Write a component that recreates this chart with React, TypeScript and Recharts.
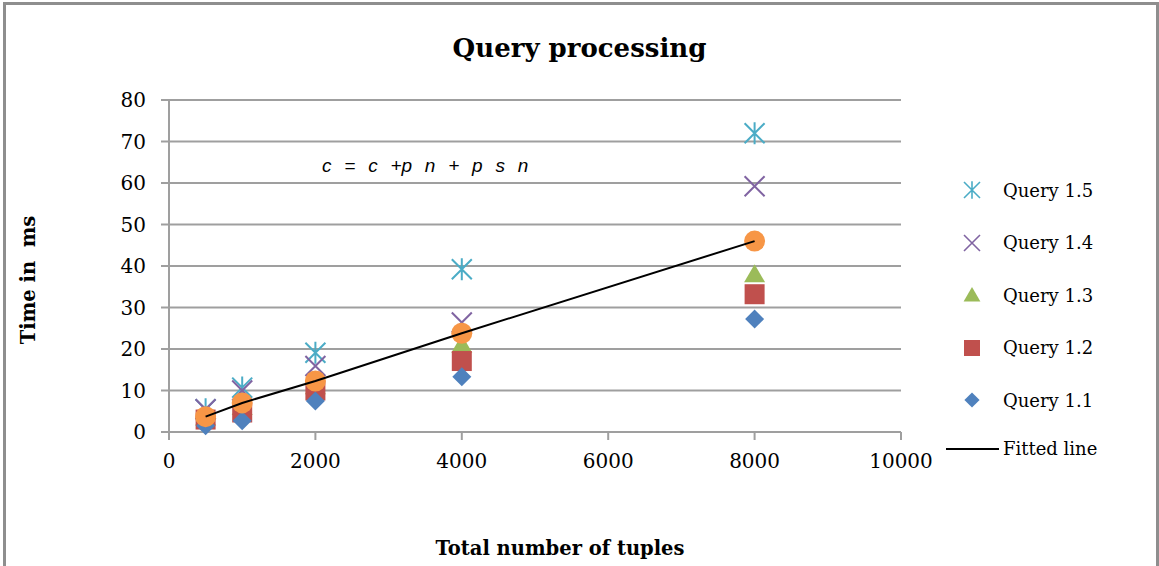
import React from 'react';
import { ScatterChart, Scatter, XAxis, YAxis, CartesianGrid } from 'recharts';

// tuple counts measured
const tuples = [500, 1000, 2000, 4000, 8000];

// processing time (ms) per query
const query11 = [1.5, 2.7, 7.5, 13.3, 27.2];
const query12 = [3, 4.7, 10, 17.1, 33.2];
const query13 = [3.5, 6, 11, 21, 38];
const query14 = [5.5, 10, 15.9, 26.4, 59.2];
const query15 = [5.5, 10.7, 19.1, 39.2, 72];
// fitted model values
const fitted = [3.7, 7, 12.3, 23.8, 46];

const xTicks = [0, 2000, 4000, 6000, 8000, 10000];
const yTicks = [0, 10, 20, 30, 40, 50, 60, 70, 80];

const toPoints = (vals: number[]) => tuples.map((n, i) => ({ n, t: vals[i] }));

const BLUE = '#4F81BD';
const RED = '#C0504D';
const GREEN = '#9BBB59';
const PURPLE = '#8064A2';
const TEAL = '#4BACC6';
const ORANGE = '#F79646';
const GRID = '#9f9f9f';
const SERIF = '"DejaVu Serif", serif';

const Diamond = ({ cx, cy }: any) => (
  <path d={`M${cx},${cy - 9.5}L${cx + 9.5},${cy}L${cx},${cy + 9.5}L${cx - 9.5},${cy}Z`} fill={BLUE} />
);
const Square = ({ cx, cy }: any) => (
  <rect x={cx - 10} y={cy - 10} width={20} height={20} fill={RED} />
);
const Triangle = ({ cx, cy }: any) => (
  <path d={`M${cx},${cy - 10}L${cx + 10.5},${cy + 8}L${cx - 10.5},${cy + 8}Z`} fill={GREEN} />
);
const Cross = ({ cx, cy }: any) => (
  <path
    d={`M${cx - 10},${cy - 10}L${cx + 10},${cy + 10}M${cx - 10},${cy + 10}L${cx + 10},${cy - 10}`}
    stroke={PURPLE}
    strokeWidth={2}
  />
);
const Star = ({ cx, cy }: any) => (
  <path
    d={`M${cx - 10},${cy - 10}L${cx + 10},${cy + 10}M${cx - 10},${cy + 10}L${cx + 10},${cy - 10}M${cx},${cy - 11}L${cx},${cy + 11}`}
    stroke={TEAL}
    strokeWidth={2}
  />
);
const Dot = ({ cx, cy }: any) => <circle cx={cx} cy={cy} r={10.5} fill={ORANGE} />;
const NoMark = () => <g />;

const legendRows = [
  { name: 'Query 1.5', Icon: Star },
  { name: 'Query 1.4', Icon: Cross },
  { name: 'Query 1.3', Icon: Triangle },
  { name: 'Query 1.2', Icon: Square },
  { name: 'Query 1.1', Icon: Diamond },
];

function LegendBox() {
  return (
    <div style={{ position: 'absolute', left: 946, top: 164 }}>
      {legendRows.map(({ name, Icon }) => (
        <div key={name} style={{ display: 'flex', alignItems: 'center', height: 52.5 }}>
          <svg width={52} height={30}>
            <g transform="translate(26,15) scale(0.8)">
              <Icon cx={0} cy={0} />
            </g>
          </svg>
          <span style={{ marginLeft: 5, fontSize: 18, fontFamily: SERIF }}>{name}</span>
        </div>
      ))}
      <div style={{ display: 'flex', alignItems: 'center', height: 30, marginTop: 7 }}>
        <svg width={53} height={30}>
          <line x1={0} y1={15} x2={53} y2={15} stroke="#000" strokeWidth={2} />
        </svg>
        <span style={{ marginLeft: 4, fontSize: 18, fontFamily: SERIF }}>Fitted line</span>
      </div>
    </div>
  );
}

export default function App() {
  const tick = { fill: '#000', fontSize: 20, fontFamily: SERIF };
  return (
    <div
      style={{
        position: 'absolute',
        left: 0,
        top: 0,
        width: 1159,
        height: 566,
        background: '#fff',
        fontFamily: SERIF,
      }}
    >
      <div
        style={{
          position: 'absolute',
          left: 3,
          top: 2,
          width: 1150,
          height: 561,
          borderTop: '3px solid #8e8e8e',
          borderLeft: '3px solid #8e8e8e',
          borderRight: '3px solid #8e8e8e',
          borderBottom: '1px solid #d4d4d4',
        }}
      />
      <ScatterChart width={1159} height={566} margin={{ top: 100, right: 258, bottom: 0, left: 0 }}>
        <CartesianGrid vertical={false} stroke={GRID} strokeWidth={2} />
        <XAxis
          type="number"
          dataKey="n"
          domain={[0, 10000]}
          ticks={xTicks}
          interval={0}
          tick={tick}
          tickSize={8}
          tickMargin={14}
          stroke={GRID}
          strokeWidth={2}
          height={134}
        />
        <YAxis
          type="number"
          dataKey="t"
          domain={[0, 80]}
          ticks={yTicks}
          interval={0}
          tick={tick}
          tickSize={8}
          tickMargin={15}
          stroke={GRID}
          strokeWidth={2}
          width={169}
        />
        <Scatter data={toPoints(query15)} shape={<Star />} isAnimationActive={false} />
        <Scatter data={toPoints(query14)} shape={<Cross />} isAnimationActive={false} />
        <Scatter data={toPoints(query13)} shape={<Triangle />} isAnimationActive={false} />
        <Scatter data={toPoints(query12)} shape={<Square />} isAnimationActive={false} />
        <Scatter data={toPoints(query11)} shape={<Diamond />} isAnimationActive={false} />
        <Scatter data={toPoints(fitted)} shape={<Dot />} isAnimationActive={false} />
        <Scatter
          data={toPoints(fitted)}
          shape={<NoMark />}
          line={{ stroke: '#000', strokeWidth: 2 }}
          isAnimationActive={false}
        />
      </ScatterChart>
      <div
        style={{
          position: 'absolute',
          left: 0,
          width: 1159,
          top: 33,
          textAlign: 'center',
          fontSize: 26,
          fontWeight: 'bold',
        }}
      >
        Query processing
      </div>
      <div
        style={{
          position: 'absolute',
          left: 322,
          top: 155,
          fontFamily: '"Liberation Sans", Arial, sans-serif',
          fontStyle: 'italic',
          fontSize: 19,
          wordSpacing: 7.5,
          whiteSpace: 'pre',
        }}
      >
        c = c +p n + p s n
      </div>
      <div
        style={{
          position: 'absolute',
          left: 28,
          top: 280,
          transform: 'translate(-50%, -50%) rotate(-90deg)',
          fontSize: 19.5,
          fontWeight: 'bold',
          whiteSpace: 'pre',
        }}
      >
        Time in  ms
      </div>
      <div
        style={{
          position: 'absolute',
          left: 560,
          top: 548,
          transform: 'translate(-50%, -50%)',
          fontSize: 19.5,
          fontWeight: 'bold',
          whiteSpace: 'pre',
        }}
      >
        Total number of tuples
      </div>
      <LegendBox />
    </div>
  );
}
